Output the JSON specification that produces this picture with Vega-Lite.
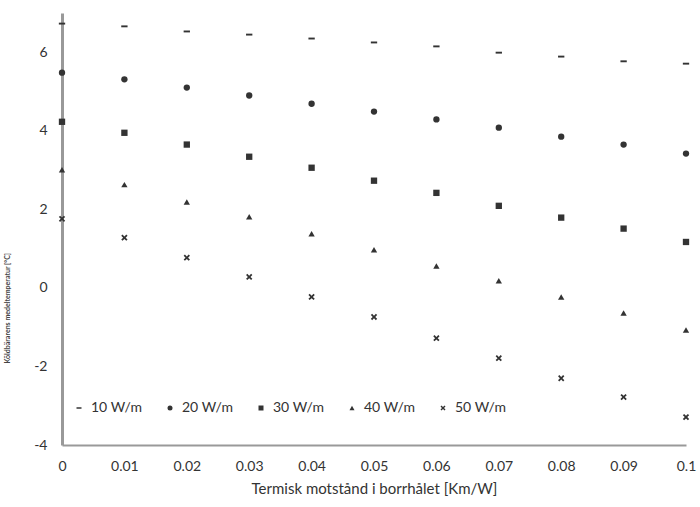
{
  "$schema": "https://vega.github.io/schema/vega-lite/v6.json",
  "width": 624,
  "height": 432,
  "autosize": "none",
  "padding": {"left": 62, "top": 13, "right": 14, "bottom": 62},
  "background": "white",
  "config": {"view": {"stroke": null}, "font": "Lato"},
  "data": {"values": [
    {"r": 0, "s": "10 W/m", "t": 6.73}, {"r": 0.01, "s": "10 W/m", "t": 6.66}, {"r": 0.02, "s": "10 W/m", "t": 6.53}, {"r": 0.03, "s": "10 W/m", "t": 6.45}, {"r": 0.04, "s": "10 W/m", "t": 6.35}, {"r": 0.05, "s": "10 W/m", "t": 6.25}, {"r": 0.06, "s": "10 W/m", "t": 6.15}, {"r": 0.07, "s": "10 W/m", "t": 5.99}, {"r": 0.08, "s": "10 W/m", "t": 5.89}, {"r": 0.09, "s": "10 W/m", "t": 5.77}, {"r": 0.1, "s": "10 W/m", "t": 5.71},
    {"r": 0, "s": "20 W/m", "t": 5.48}, {"r": 0.01, "s": "20 W/m", "t": 5.31}, {"r": 0.02, "s": "20 W/m", "t": 5.1}, {"r": 0.03, "s": "20 W/m", "t": 4.9}, {"r": 0.04, "s": "20 W/m", "t": 4.69}, {"r": 0.05, "s": "20 W/m", "t": 4.49}, {"r": 0.06, "s": "20 W/m", "t": 4.29}, {"r": 0.07, "s": "20 W/m", "t": 4.08}, {"r": 0.08, "s": "20 W/m", "t": 3.85}, {"r": 0.09, "s": "20 W/m", "t": 3.65}, {"r": 0.1, "s": "20 W/m", "t": 3.42},
    {"r": 0, "s": "30 W/m", "t": 4.23}, {"r": 0.01, "s": "30 W/m", "t": 3.95}, {"r": 0.02, "s": "30 W/m", "t": 3.65}, {"r": 0.03, "s": "30 W/m", "t": 3.34}, {"r": 0.04, "s": "30 W/m", "t": 3.06}, {"r": 0.05, "s": "30 W/m", "t": 2.73}, {"r": 0.06, "s": "30 W/m", "t": 2.42}, {"r": 0.07, "s": "30 W/m", "t": 2.09}, {"r": 0.08, "s": "30 W/m", "t": 1.79}, {"r": 0.09, "s": "30 W/m", "t": 1.51}, {"r": 0.1, "s": "30 W/m", "t": 1.17},
    {"r": 0, "s": "40 W/m", "t": 3.01}, {"r": 0.01, "s": "40 W/m", "t": 2.63}, {"r": 0.02, "s": "40 W/m", "t": 2.19}, {"r": 0.03, "s": "40 W/m", "t": 1.81}, {"r": 0.04, "s": "40 W/m", "t": 1.38}, {"r": 0.05, "s": "40 W/m", "t": 0.97}, {"r": 0.06, "s": "40 W/m", "t": 0.56}, {"r": 0.07, "s": "40 W/m", "t": 0.18}, {"r": 0.08, "s": "40 W/m", "t": -0.23}, {"r": 0.09, "s": "40 W/m", "t": -0.64}, {"r": 0.1, "s": "40 W/m", "t": -1.07},
    {"r": 0, "s": "50 W/m", "t": 1.76}, {"r": 0.01, "s": "50 W/m", "t": 1.28}, {"r": 0.02, "s": "50 W/m", "t": 0.77}, {"r": 0.03, "s": "50 W/m", "t": 0.28}, {"r": 0.04, "s": "50 W/m", "t": -0.23}, {"r": 0.05, "s": "50 W/m", "t": -0.74}, {"r": 0.06, "s": "50 W/m", "t": -1.28}, {"r": 0.07, "s": "50 W/m", "t": -1.79}, {"r": 0.08, "s": "50 W/m", "t": -2.3}, {"r": 0.09, "s": "50 W/m", "t": -2.78}, {"r": 0.1, "s": "50 W/m", "t": -3.29}
  ]},
  "mark": {"type": "point", "filled": true, "opacity": 1, "clip": false},
  "encoding": {
    "x": {
      "field": "r", "type": "quantitative",
      "scale": {"domain": [0, 0.1], "nice": false, "zero": false},
      "axis": {
        "values": [0, 0.01, 0.02, 0.03, 0.04, 0.05, 0.06, 0.07, 0.08, 0.09, 0.1],
        "format": ".2~f", "grid": false, "ticks": false,
        "domainColor": "#999999", "domainWidth": 2,
        "labelFontSize": 14, "labelColor": "#333333", "labelPadding": 14,
        "labelFlush": false,
        "title": "Termisk motstånd i borrhålet [Km/W]",
        "titleFontSize": 15, "titleFontWeight": "normal", "titleColor": "#333333", "titlePadding": 8
      }
    },
    "y": {
      "field": "t", "type": "quantitative",
      "scale": {"domain": [-4, 7], "nice": false, "zero": false},
      "axis": {
        "values": [-4, -2, 0, 2, 4, 6],
        "labelExpr": "toString(datum.value)",
        "grid": false, "ticks": false,
        "domainColor": "#999999", "domainWidth": 3,
        "labelFontSize": 14, "labelColor": "#333333", "labelPadding": 15,
        "labelFlush": false,
        "title": "Köldbärarens medeltemperatur [°C]",
        "titleFontSize": 7, "titleFontWeight": "bold", "titleColor": "#444444",
        "titleAnchor": "start", "titleAlign": "left", "titleY": 350, "titleX": -52
      }
    },
    "shape": {
      "field": "s", "type": "nominal",
      "scale": {
        "domain": ["10 W/m", "20 W/m", "30 W/m", "40 W/m", "50 W/m"],
        "range": [
          "M-1,-0.3H1V0.3H-1Z",
          "circle",
          "square",
          "triangle-up",
          "M-1,-0.6L-0.6,-1L0,-0.4L0.6,-1L1,-0.6L0.4,0L1,0.6L0.6,1L0,0.4L-0.6,1L-1,0.6L-0.4,0Z"
        ]
      },
      "legend": {
        "title": null, "orient": "none", "direction": "horizontal", "columns": 5,
        "legendX": 10, "legendY": 388,
        "labelFontSize": 14, "labelColor": "#333333", "symbolSize": 25,
        "symbolFillColor": "#333333", "symbolStrokeColor": "#333333",
        "columnPadding": 20, "labelOffset": 5
      }
    },
    "color": {"value": "#333333"},
    "size": {"value": 40}
  }
}
